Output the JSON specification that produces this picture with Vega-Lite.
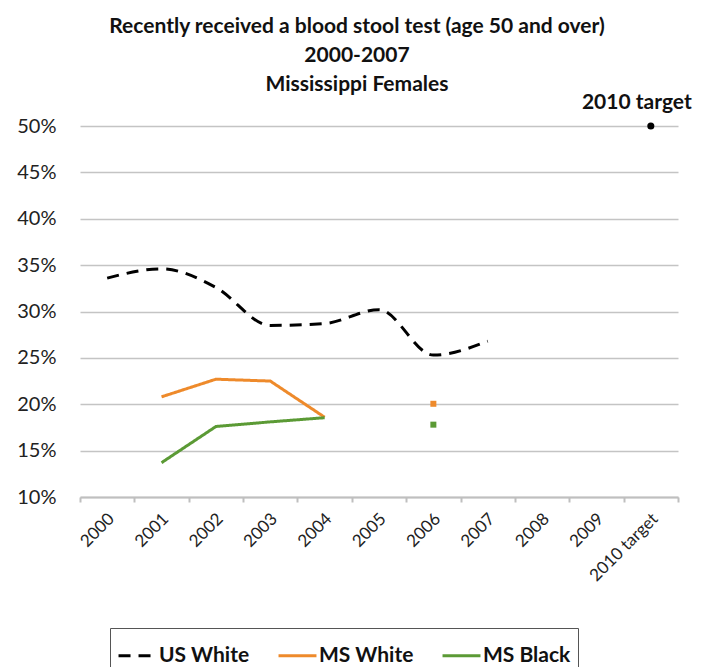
{
  "$schema": "https://vega.github.io/schema/vega-lite/v6.json",
  "autosize": {"type": "none"},
  "width": 598,
  "height": 371,
  "padding": {"left": 80, "top": 126, "right": 44, "bottom": 170},
  "background": "white",
  "config": {
    "font": "Lato",
    "view": {"stroke": null},
    "title": {"font": "Lato", "fontWeight": "bold", "fontSize": 21, "color": "#111111"}
  },
  "title": {
    "text": ["Recently received a blood stool test (age 50 and over)", "2000-2007", "Mississippi Females"],
    "anchor": "middle",
    "dx": -22,
    "offset": -3,
    "lineHeight": 29
  },
  "datasets": {
    "series": [
      {"year": "2000", "series": "US White", "value": 0.336, "kind": "smooth"},
      {"year": "2001", "series": "US White", "value": 0.346, "kind": "smooth"},
      {"year": "2002", "series": "US White", "value": 0.326, "kind": "smooth"},
      {"year": "2003", "series": "US White", "value": 0.285, "kind": "smooth"},
      {"year": "2004", "series": "US White", "value": 0.287, "kind": "smooth"},
      {"year": "2005", "series": "US White", "value": 0.302, "kind": "smooth"},
      {"year": "2006", "series": "US White", "value": 0.253, "kind": "smooth"},
      {"year": "2007", "series": "US White", "value": 0.268, "kind": "smooth"},
      {"year": "2001", "series": "MS White", "value": 0.208, "kind": "line"},
      {"year": "2002", "series": "MS White", "value": 0.227, "kind": "line"},
      {"year": "2003", "series": "MS White", "value": 0.225, "kind": "line"},
      {"year": "2004", "series": "MS White", "value": 0.186, "kind": "line"},
      {"year": "2006", "series": "MS White", "value": 0.2005, "kind": "point"},
      {"year": "2001", "series": "MS Black", "value": 0.137, "kind": "line"},
      {"year": "2002", "series": "MS Black", "value": 0.176, "kind": "line"},
      {"year": "2003", "series": "MS Black", "value": 0.181, "kind": "line"},
      {"year": "2004", "series": "MS Black", "value": 0.1855, "kind": "line"},
      {"year": "2006", "series": "MS Black", "value": 0.178, "kind": "point"}
    ],
    "target": [
      {"year": "2010 target", "value": 0.5, "label": "2010 target"}
    ]
  },
  "layer": [
    {
      "data": {"name": "series"},
      "transform": [{"filter": "datum.kind == 'line'"}],
      "mark": {"type": "line", "strokeWidth": 3},
      "encoding": {
        "x": {
          "field": "year", "type": "ordinal",
          "scale": {"type": "band", "domain": ["2000","2001","2002","2003","2004","2005","2006","2007","2008","2009","2010 target"], "paddingInner": 0, "paddingOuter": 0},
          "axis": {
            "title": null,
            "labelAngle": -45,
            "labelAlign": "right",
            "labelBaseline": "middle",
            "labelFont": "Lato",
            "labelFontSize": 17,
            "labelColor": "#222222",
            "labelPadding": 14,
            "labelOffset": 4,
            "domainColor": "#BFBFBF",
            "domainWidth": 2,
            "ticks": true,
            "tickColor": "#BFBFBF",
            "tickWidth": 2,
            "tickSize": 5,
            "tickBand": "extent",
            "grid": false
          }
        },
        "y": {
          "field": "value", "type": "quantitative",
          "scale": {"domain": [0.1, 0.5], "nice": false, "zero": false},
          "axis": {
            "title": null,
            "values": [0.1, 0.15, 0.2, 0.25, 0.3, 0.35, 0.4, 0.45, 0.5],
            "format": ".0%",
            "labelFont": "Lato",
            "labelFontSize": 20,
            "labelColor": "#222222",
            "labelPadding": 24,
            "domain": false,
            "ticks": false,
            "gridColor": "#C4C4C4",
            "gridWidth": 1.5
          }
        },
        "color": {
          "field": "series", "type": "nominal",
          "scale": {"domain": ["US White", "MS White", "MS Black"], "range": ["#000000", "#EE8A2B", "#5B9A35"]},
          "legend": {
            "title": null,
            "orient": "none",
            "legendX": 30,
            "legendY": 502,
            "direction": "horizontal",
            "columns": 3,
            "strokeColor": "#555555",
            "padding": 7,
            "labelFont": "Lato",
            "labelFontSize": 21,
            "labelFontWeight": "bold",
            "labelColor": "#111111",
            "symbolType": "stroke",
            "symbolSize": 1440,
            "symbolStrokeWidth": 3,
            "columnPadding": 22,
            "labelOffset": 1
          }
        },
        "strokeDash": {
          "field": "series", "type": "nominal",
          "scale": {"domain": ["US White", "MS White", "MS Black"], "range": [[12, 8], [1, 0], [1, 0]]},
          "legend": null
        }
      }
    },
    {
      "data": {"name": "series"},
      "transform": [{"filter": "datum.kind == 'smooth'"}],
      "mark": {"type": "line", "strokeWidth": 3, "interpolate": "monotone"},
      "encoding": {
        "x": {"field": "year", "type": "ordinal"},
        "y": {"field": "value", "type": "quantitative"},
        "color": {"field": "series", "type": "nominal"},
        "strokeDash": {"field": "series", "type": "nominal", "legend": null}
      }
    },
    {
      "data": {"name": "series"},
      "transform": [{"filter": "datum.kind == 'point'"}],
      "mark": {"type": "point", "shape": "square", "filled": true, "size": 36, "opacity": 1},
      "encoding": {
        "x": {"field": "year", "type": "ordinal"},
        "y": {"field": "value", "type": "quantitative"},
        "color": {"field": "series", "type": "nominal"}
      }
    },
    {
      "data": {"name": "target"},
      "mark": {"type": "point", "shape": "circle", "filled": true, "size": 50, "color": "#000000", "opacity": 1},
      "encoding": {
        "x": {"field": "year", "type": "ordinal"},
        "y": {"field": "value", "type": "quantitative"}
      }
    },
    {
      "data": {"name": "target"},
      "mark": {"type": "text", "font": "Lato", "fontSize": 21, "fontWeight": "bold", "color": "#111111", "dy": -23, "dx": -14},
      "encoding": {
        "x": {"field": "year", "type": "ordinal"},
        "y": {"field": "value", "type": "quantitative"},
        "text": {"field": "label"}
      }
    }
  ]
}
